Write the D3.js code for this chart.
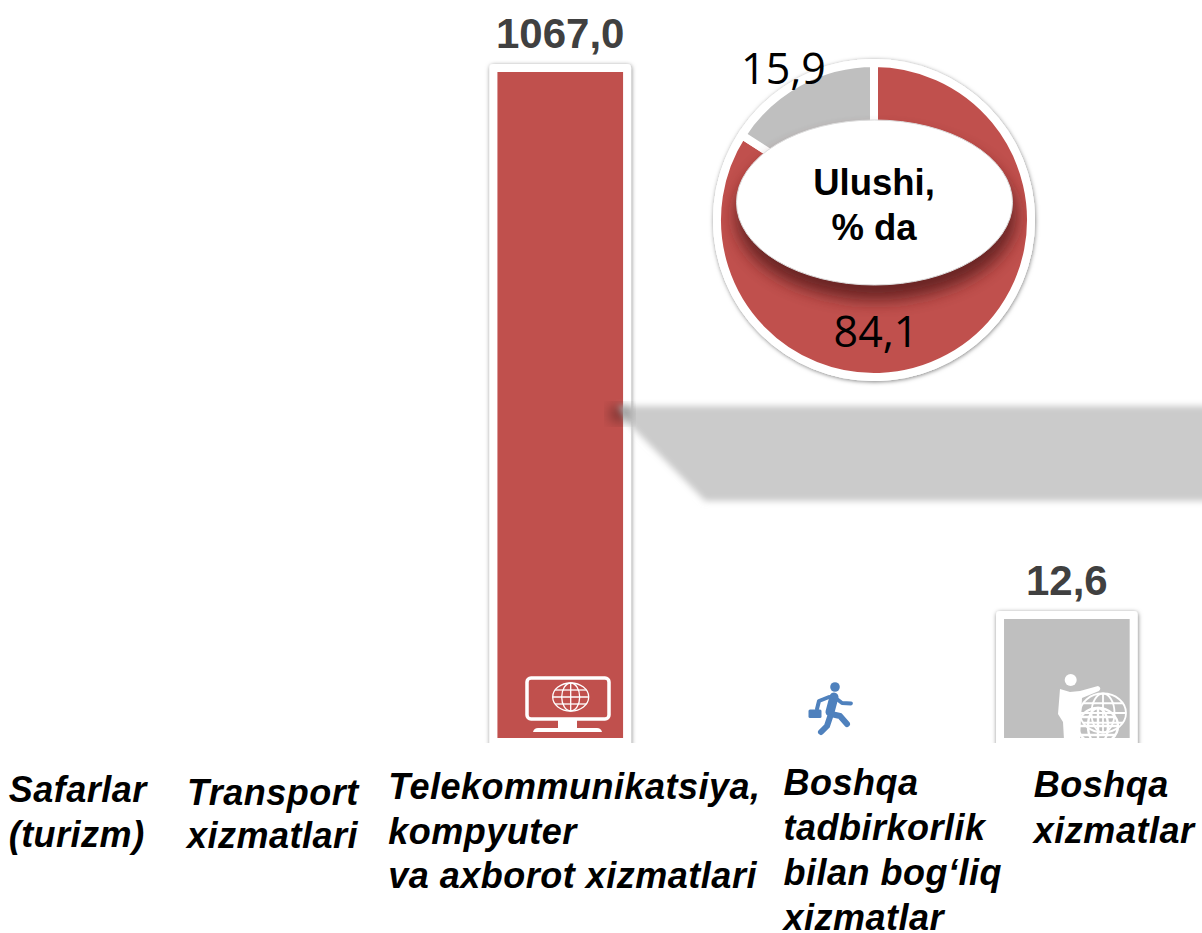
<!DOCTYPE html>
<html>
<head>
<meta charset="utf-8">
<script src="https://cdn.jsdelivr.net/npm/d3@7"></script>
<style>
  html, body { margin: 0; padding: 0; background: #fff; overflow: hidden; }
  text { font-family: "Liberation Sans", Arial, sans-serif; }
</style>
</head>
<body>
<div id="chart"></div>
<script>
/* DATA */
const categories = ["Safarlar", "Transport", "Telekom", "Tadbirkorlik", "Boshqa"];
const categoryLines = [
  ["Safarlar", "(turizm)"],
  ["Transport", "xizmatlari"],
  ["Telekommunikatsiya,", "kompyuter", "va axborot xizmatlari"],
  ["Boshqa", "tadbirkorlik", "bilan bog‘liq", "xizmatlar"],
  ["Boshqa", "xizmatlar"]
];
// only two bars are visible in the picture, the others have no readable value
const values = [null, null, 1067.0, null, 12.6];
const barColors = ["#c0504d", "#c0504d", "#c0504d", "#4f81bd", "#bfbfbf"];

const shareValues = [84.1, 15.9];
const shareColors = ["#c0504d", "#bfbfbf"];
const shareTitle = ["Ulushi,", "% da"];

/* LAYOUT */
const width = 1202, height = 933;
const barBottom = 738, clipBottom = 743, framePad = 8;
const labelOffset = [-45, -120, -172, -30, -33];
const labelFirstBaseline = [802, 805, 799, 795, 797];
const labelLineHeight = [44.5, 43, 44.5, 45, 46];
const donut = { x: 874, y: 220, r: 153, back: 161 };
const shareLabelPos = [{ x: 876, y: 347 }, { x: 783.5, y: 84 }];

const fmt = d3.formatLocale({ decimal: ",", thousands: "", grouping: [3], currency: ["", ""] }).format(".1f");

const svg = d3.select("#chart").append("svg")
  .attr("width", width)
  .attr("height", height)
  .style("display", "block");

/* FILTERS */
const defs = svg.append("defs");
function blur(id, dev) {
  defs.append("filter").attr("id", id)
    .attr("x", "-30%").attr("y", "-30%").attr("width", "160%").attr("height", "160%")
    .append("feGaussianBlur").attr("stdDeviation", dev);
}
blur("blurIcon", 0.5);
blur("blurBand", 3);
blur("blurSpot", 6);
blur("blurPlate", 8);

const shadow = defs.append("filter").attr("id", "frameShadow")
  .attr("x", "-20%").attr("y", "-20%").attr("width", "140%").attr("height", "140%");
shadow.append("feDropShadow")
  .attr("dx", 0.5).attr("dy", 1).attr("stdDeviation", 2)
  .attr("flood-color", "#000").attr("flood-opacity", 0.5);

defs.append("clipPath").attr("id", "barClip")
  .append("rect").attr("x", 0).attr("y", 0).attr("width", width).attr("height", clipBottom);
defs.append("clipPath").attr("id", "ringClip")
  .append("circle").attr("cx", donut.x).attr("cy", donut.y).attr("r", donut.r);
defs.append("clipPath").attr("id", "inBar")
  .append("rect").attr("x", 1004).attr("y", 619).attr("width", 126).attr("height", 119);

/* SCALES */
const xScale = d3.scaleBand()
  .domain(categories)
  .range([-73, 1193.5])
  .paddingInner(0.504)
  .paddingOuter(0.252);

// the bars of the source are not to scale (the small one is drawn much taller),
// so the value axis has a knee at the small value
const yScale = d3.scaleLinear()
  .domain([0, 12.6, 1067])
  .range([barBottom, 619, 72]);

/* BARS */
const rows = categories.map((c, i) => ({ c, v: values[i], color: barColors[i] })).filter(d => d.v !== null);

const barLayer = svg.append("g").attr("clip-path", "url(#barClip)");

barLayer.selectAll("rect.frame")
  .data(rows)
  .join("rect")
  .attr("class", "frame")
  .attr("x", d => xScale(d.c) - framePad)
  .attr("y", d => yScale(d.v) - framePad)
  .attr("width", xScale.bandwidth() + framePad * 2)
  .attr("height", d => barBottom - yScale(d.v) + framePad * 3)
  .attr("rx", 4)
  .attr("fill", "#fff")
  .attr("filter", "url(#frameShadow)");

barLayer.selectAll("rect.bar")
  .data(rows)
  .join("rect")
  .attr("class", "bar")
  .attr("x", d => xScale(d.c))
  .attr("y", d => yScale(d.v))
  .attr("width", xScale.bandwidth())
  .attr("height", d => barBottom - yScale(d.v))
  .attr("fill", d => d.color);

svg.selectAll("text.value")
  .data(rows)
  .join("text")
  .attr("class", "value")
  .attr("x", d => xScale(d.c) + xScale.bandwidth() / 2)
  .attr("y", d => yScale(d.v) - 24.5)
  .attr("text-anchor", "middle")
  .attr("font-size", 42)
  .attr("font-weight", "bold")
  .attr("fill", "#404040")
  .text(d => fmt(d.v));

/* GREY SHADOW BAND */
svg.append("path")
  .attr("d", "M618,406 L1240,406 L1240,501 L705,501 L627,422 Z")
  .attr("fill", "#cbcbcb")
  .attr("filter", "url(#blurBand)");
svg.append("rect")
  .attr("x", 610).attr("y", 406).attr("width", 20).attr("height", 16)
  .attr("fill", "#000").attr("opacity", 0.3)
  .attr("filter", "url(#blurSpot)");

/* CATEGORY LABELS */
const labels = svg.selectAll("text.category")
  .data(categories)
  .join("text")
  .attr("class", "category")
  .attr("font-size", 36)
  .attr("letter-spacing", 0.5)
  .attr("font-weight", "bold")
  .attr("font-style", "italic")
  .attr("fill", "#000");

labels.selectAll("tspan")
  .data((d, i) => categoryLines[i].map(line => ({ line, i })))
  .join("tspan")
  .attr("x", d => xScale(categories[d.i]) + xScale.bandwidth() / 2 + labelOffset[d.i])
  .attr("y", (d, j) => labelFirstBaseline[d.i] + j * labelLineHeight[d.i])
  .text(d => d.line);

/* DONUT */
svg.append("circle")
  .attr("cx", donut.x).attr("cy", donut.y).attr("r", donut.back)
  .attr("fill", "#fff")
  .attr("filter", "url(#frameShadow)");

const pie = d3.pie().sort(null);
const arc = d3.arc().innerRadius(0).outerRadius(donut.r + 4);

const donutG = svg.append("g")
  .attr("transform", `translate(${donut.x},${donut.y})`);

donutG.selectAll("path")
  .data(pie(shareValues))
  .join("path")
  .attr("d", arc)
  .attr("fill", (d, i) => shareColors[i])
  .attr("stroke", "#fff")
  .attr("stroke-width", 8);

// dark shadow of the plate, falls only on the ring
svg.append("g").attr("clip-path", "url(#ringClip)")
  .append("ellipse")
  .attr("cx", donut.x + 2).attr("cy", 216).attr("rx", 140).attr("ry", 84)
  .attr("fill", "#5a1f1d")
  .attr("opacity", 0.85)
  .attr("filter", "url(#blurPlate)");

svg.append("ellipse")
  .attr("cx", 874.5).attr("cy", 202.5).attr("rx", 138).attr("ry", 82.5)
  .attr("fill", "#fff")
  .attr("stroke", "#dcdcdc")
  .attr("stroke-width", 1);

svg.selectAll("text.title")
  .data(shareTitle)
  .join("text")
  .attr("class", "title")
  .attr("x", 874)
  .attr("y", (d, i) => 195 + i * 45)
  .attr("text-anchor", "middle")
  .attr("font-size", 36.5)
  .attr("font-weight", "bold")
  .attr("fill", "#000")
  .text(d => d);

svg.selectAll("text.share")
  .data(shareValues)
  .join("text")
  .attr("class", "share")
  .attr("x", (d, i) => shareLabelPos[i].x)
  .attr("y", (d, i) => shareLabelPos[i].y)
  .attr("text-anchor", "middle")
  .attr("font-size", 43)
  .attr("fill", "#000")
  .style("font-family", "'Open Sans', sans-serif")
  .text(d => fmt(d));

/* ICONS */
function globe(parent, cx, cy, rx, ry, sw) {
  const g = parent.append("g").attr("fill", "none").attr("stroke", "#fff").attr("stroke-width", sw);
  g.append("ellipse").attr("cx", cx).attr("cy", cy).attr("rx", rx).attr("ry", ry);
  g.append("ellipse").attr("cx", cx).attr("cy", cy).attr("rx", rx * 0.5).attr("ry", ry);
  g.append("line").attr("x1", cx).attr("x2", cx).attr("y1", cy - ry).attr("y2", cy + ry);
  [-0.5, 0, 0.5].forEach(k => {
    const half = rx * Math.sqrt(1 - k * k);
    g.append("line").attr("x1", cx - half).attr("x2", cx + half).attr("y1", cy + k * ry).attr("y2", cy + k * ry);
  });
}

// monitor
const mon = svg.append("g");
mon.append("rect").attr("x", 527).attr("y", 678).attr("width", 82).attr("height", 41).attr("rx", 4)
  .attr("fill", "none").attr("stroke", "#fff").attr("stroke-width", 3.5);
mon.append("rect").attr("x", 558).attr("y", 720).attr("width", 19).attr("height", 9).attr("fill", "#fff");
mon.append("path").attr("d", "M533,732 Q534,728 538,728 L597,728 Q601,728 602,732 Z").attr("fill", "#fff");
globe(mon, 570.7, 697, 18, 14, 1.3);

// runner
const run = svg.append("g").attr("stroke", "#4f81bd").attr("fill", "none")
  .attr("stroke-linecap", "round").attr("stroke-linejoin", "round");
run.append("circle").attr("cx", 835).attr("cy", 687).attr("r", 4.8).attr("fill", "#4f81bd").attr("stroke", "none");
run.append("path").attr("d", "M834,697 L830,712").attr("stroke-width", 9);
run.append("path").attr("d", "M833,696 L842,703 L851,703.5").attr("stroke-width", 3.8);
run.append("path").attr("d", "M829,697 L819,701 L817,709").attr("stroke-width", 4);
run.append("path").attr("d", "M831,714 L840,716 L847,724").attr("stroke-width", 6);
run.append("path").attr("d", "M830,717 L827,726 L821,732").attr("stroke-width", 6);
run.append("rect").attr("x", 808.5).attr("y", 709.5).attr("width", 13).attr("height", 8.5).attr("rx", 1.5)
  .attr("fill", "#4f81bd").attr("stroke", "none");

// person with globes
const per = svg.append("g").attr("clip-path", "url(#inBar)").append("g").attr("filter", "url(#blurIcon)");
per.append("circle").attr("cx", 1070.7).attr("cy", 680).attr("r", 6).attr("fill", "#fff");
per.append("path")
  .attr("d", "M1060,689 L1070,692 L1080,691 L1098,686 Q1102,688 1099,691 L1082,698 L1080,740 L1064,740 L1063,722 L1058,714 Z")
  .attr("fill", "#fff");
globe(per, 1103, 713, 23, 19.5, 1.8);
globe(per, 1098, 726, 20, 18, 2.4);
</script>
</body>
</html>
